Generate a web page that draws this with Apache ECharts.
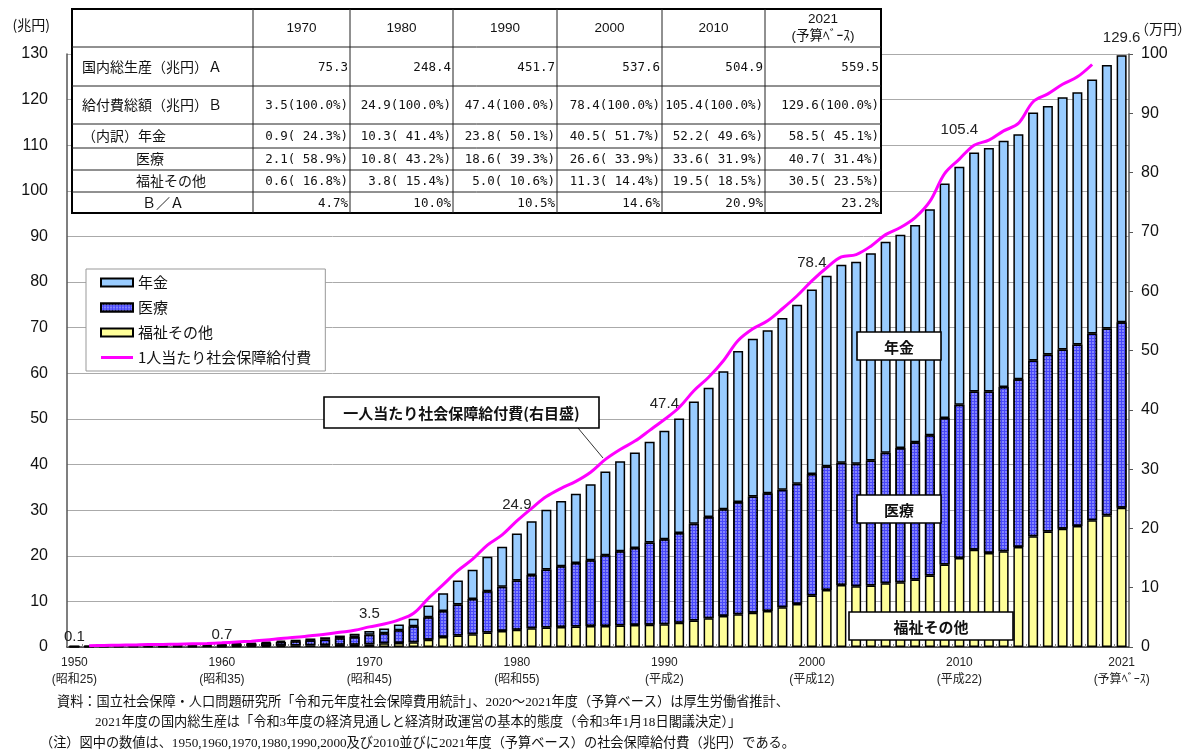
<!DOCTYPE html>
<html><head><meta charset="utf-8">
<script src="https://cdn.jsdelivr.net/npm/echarts@6/dist/echarts.min.js"></script>
<style>html,body{margin:0;padding:0;background:#fff}#c{width:1192px;height:752px}</style>
</head><body><div id="c"></div>
<script>
// ---------------- DATA ----------------
const years = ['1950','1951','1952','1953','1954','1955','1956','1957','1958','1959',
  '1960','1961','1962','1963','1964','1965','1966','1967','1968','1969',
  '1970','1971','1972','1973','1974','1975','1976','1977','1978','1979',
  '1980','1981','1982','1983','1984','1985','1986','1987','1988','1989',
  '1990','1991','1992','1993','1994','1995','1996','1997','1998','1999',
  '2000','2001','2002','2003','2004','2005','2006','2007','2008','2009',
  '2010','2011','2012','2013','2014','2015','2016','2017','2018','2019',
  '2020','2021'];
// 年金 (兆円)
const pension = [0.00,0.01,0.01,0.02,0.02,0.03,0.04,0.05,0.06,0.08,
  0.14,0.17,0.19,0.22,0.27,0.35,0.41,0.48,0.58,0.68,
  0.86,1.04,1.26,1.68,2.60,3.87,5.27,6.41,7.59,8.77,
  10.30,11.78,13.10,14.28,15.22,16.68,18.40,19.72,20.92,22.11,
  23.80,25.10,26.82,28.33,30.27,33.11,34.55,35.72,37.64,39.23,
  40.50,41.80,43.42,44.26,45.42,46.25,46.78,47.63,49.57,51.40,
  52.20,52.40,53.40,54.00,53.70,54.40,54.50,55.30,55.30,55.70,
  57.80,58.50];
// 医療 (兆円)
const medical = [0.06,0.08,0.12,0.15,0.18,0.21,0.22,0.24,0.28,0.31,
  0.35,0.45,0.55,0.68,0.84,0.91,1.08,1.24,1.45,1.68,
  2.07,2.24,2.81,3.47,4.90,5.70,6.80,7.70,9.00,9.70,
  10.80,11.70,12.70,13.30,13.90,14.40,15.50,16.30,16.90,18.00,
  18.60,19.70,21.20,22.20,23.40,24.60,25.50,25.80,25.80,26.40,
  26.60,27.10,26.80,26.90,27.40,28.60,29.40,30.10,30.70,32.10,
  33.60,34.70,35.40,36.00,36.80,38.50,38.80,39.30,39.80,40.90,
  40.90,40.70];
// 福祉その他 (兆円)
const welfare = [0.07,0.07,0.09,0.10,0.11,0.15,0.14,0.14,0.15,0.17,
  0.16,0.17,0.20,0.23,0.27,0.34,0.38,0.42,0.48,0.52,
  0.59,0.80,0.86,1.06,1.60,2.20,2.50,2.80,3.20,3.50,
  3.80,4.10,4.30,4.40,4.50,4.60,4.60,4.70,4.80,4.90,
  5.00,5.30,5.80,6.30,6.80,7.20,7.50,7.90,8.70,9.40,
  11.30,12.50,13.60,13.30,13.50,14.00,14.20,14.80,15.70,18.10,
  19.50,21.30,20.60,21.00,21.90,24.30,25.30,25.90,26.50,27.80,
  28.90,30.50];
// 1人当たり社会保障給付費 (万円, right axis)
const perCapita = [null,0.19,0.26,0.31,0.35,0.43,0.44,0.47,0.53,0.60,
  0.70,0.84,0.99,1.18,1.42,1.63,1.89,2.14,2.48,2.81,
  3.39,3.88,4.58,5.69,8.21,10.52,12.88,14.81,17.19,18.91,
  21.27,23.39,25.36,26.75,27.94,29.48,31.64,33.31,34.72,36.53,
  38.36,40.39,43.21,45.49,48.28,51.69,53.67,55.02,57.04,59.23,
  61.74,63.95,65.77,66.18,67.60,69.54,70.74,72.42,75.15,79.84,
  82.28,84.62,85.46,87.04,88.29,91.95,93.28,94.89,96.15,98.23,
  null,null];

const axisLabelYears = ['1950','1960','1970','1980','1990','2000','2010','2021'];
const axisLabelEras  = ['昭和25','昭和35','昭和45','昭和55','平成2','平成12','平成22','予算ﾍﾞｰｽ'];
const totalLabelYears  = ['1950','1960','1970','1980','1990','2000','2010','2021'];
const totalLabelValues = [0.1,0.7,3.5,24.9,47.4,78.4,105.4,129.6];

// table
const tableHeaders = ['1970','1980','1990','2000','2010','2021\n(予算ﾍﾞｰｽ)'];
const tableRowLabels = ['国内総生産（兆円）Ａ','給付費総額（兆円）Ｂ','（内訳）年金','医療','福祉その他','Ｂ／Ａ'];
const gdp          = [75.3,248.4,451.7,537.6,504.9,559.5];
const benefitTotal = [3.5,24.9,47.4,78.4,105.4,129.6];
const pensionT     = [0.9,10.3,23.8,40.5,52.2,58.5];
const pensionShare = [24.3,41.4,50.1,51.7,49.6,45.1];
const medicalT     = [2.1,10.8,18.6,26.6,33.6,40.7];
const medicalShare = [58.9,43.2,39.3,33.9,31.9,31.4];
const welfareT     = [0.6,3.8,5.0,11.3,19.5,30.5];
const welfareShare = [16.8,15.4,10.6,14.4,18.5,23.5];
const ratioBA      = [4.7,10.0,10.5,14.6,20.9,23.2];

const footnotes = [
  '資料：国立社会保障・人口問題研究所「令和元年度社会保障費用統計」、2020～2021年度（予算ベース）は厚生労働省推計、',
  '2021年度の国内総生産は「令和3年度の経済見通しと経済財政運営の基本的態度（令和3年1月18日閣議決定）」',
  '（注）図中の数値は、1950,1960,1970,1980,1990,2000及び2010並びに2021年度（予算ベース）の社会保障給付費（兆円）である。'
];

// ---------------- STYLE / LAYOUT ----------------
const totalLabelDistance = [1.5,1,9.5,21,19.5,19,29.5,10.5];
const colEdges = [72,253,350,453,557,662,765,881];
const rowEdges = [9,47,86,124,148,170,192,213];
const rowLabelX = [82,82,82,136,136,142];
const CJK = '"Noto Sans CJK JP"';
const MONO = '"DejaVu Sans Mono"';

const fmt1 = v => v.toFixed(1);
const pad5 = s => (' '.repeat(Math.max(0,5-s.length))) + s;
const rowValues = [
  gdp.map(fmt1),
  benefitTotal.map(v => fmt1(v) + '(100.0%)'),
  pensionT.map((v,i)=> fmt1(v) + '(' + pad5(fmt1(pensionShare[i])) + '%)'),
  medicalT.map((v,i)=> fmt1(v) + '(' + pad5(fmt1(medicalShare[i])) + '%)'),
  welfareT.map((v,i)=> fmt1(v) + '(' + pad5(fmt1(welfareShare[i])) + '%)'),
  ratioBA.map(v => fmt1(v) + '%')
];

const graphics = [];
const T = (x,y,text,font,align,valign,extra) => Object.assign({
  type:'text', x:x, y:y, z:100,
  style:{text:text, font:font, fill:'#111', align:align, verticalAlign:valign,
         textAlign:align, textVerticalAlign:valign}
}, extra||{});
// table background + borders
graphics.push({type:'rect', z:99, shape:{x:colEdges[0], y:rowEdges[0], width:colEdges[7]-colEdges[0], height:rowEdges[7]-rowEdges[0]},
  style:{fill:'#fff', stroke:'#000', lineWidth:2}});
for (let r=1;r<rowEdges.length-1;r++){
  graphics.push({type:'line', z:100, shape:{x1:colEdges[0], y1:rowEdges[r], x2:colEdges[7], y2:rowEdges[r]}, style:{stroke:'#222', lineWidth:1}});
}
for (let c=1;c<colEdges.length-1;c++){
  graphics.push({type:'line', z:100, shape:{x1:colEdges[c], y1:rowEdges[0], x2:colEdges[c], y2:rowEdges[7]}, style:{stroke:'#222', lineWidth:1}});
}
tableHeaders.forEach((h,i)=>{
  const cx = (colEdges[i+1]+colEdges[i+2])/2, cy = (rowEdges[0]+rowEdges[1])/2;
  const t = T(cx, cy, h, '13.5px "Liberation Sans", ' + CJK, 'center', 'middle');
  t.style.lineHeight = 17;
  graphics.push(t);
});
tableRowLabels.forEach((lab,r)=>{
  graphics.push(T(rowLabelX[r], (rowEdges[r+1]+rowEdges[r+2])/2, lab, '14px ' + CJK, 'left', 'middle'));
  rowValues[r].forEach((v,i)=>{
    graphics.push(T(colEdges[i+2]-2, (rowEdges[r+1]+rowEdges[r+2])/2 + 1, v, '12.5px ' + MONO + ', ' + CJK, 'right', 'middle'));
  });
});
// annotation boxes
function box(x,y,w,h,text){
  graphics.push({type:'rect', z:100, shape:{x:x,y:y,width:w,height:h}, style:{fill:'#fff', stroke:'#000', lineWidth:1.6}});
  graphics.push(T(x+w/2, y+h/2+1, text, 'bold 15px ' + CJK, 'center', 'middle'));
}
box(857,332,84,28,'年金');
box(857,495,84,28,'医療');
box(849,612,164,28,'福祉その他');
graphics.push({type:'line', z:100, shape:{x1:578,y1:428,x2:603,y2:458}, style:{stroke:'#333', lineWidth:1}});
box(324,397,275,31,'一人当たり社会保障給付費(右目盛)');
// footnotes
const footX = [57,95,40], footY = [703,723,744];
footnotes.forEach((f,i)=>{
  graphics.push(T(footX[i], footY[i], f, '13.2px "Liberation Serif", ' + CJK, 'left', 'middle'));
});

const pensionData = pension.map((v,i)=>{
  const k = totalLabelYears.indexOf(years[i]);
  if (k < 0) return v;
  return {value:v, label:{show:true, distance:totalLabelDistance[k], formatter:fmt1(totalLabelValues[k])}};
});

const barCommon = {type:'bar', stack:'total', barWidth:10, xAxisIndex:0, yAxisIndex:0};

const chart = echarts.init(document.getElementById('c'));
chart.setOption({
  animation:false,
  backgroundColor:'#fff',
  grid:{left:67, right:63, top:54, bottom:105, containLabel:false, outerBoundsMode:'none'},
  legend:{
    orient:'vertical', left:86, top:269,
    data:[
      {name:'年金', icon:'rect'},
      {name:'医療', icon:'rect'},
      {name:'福祉その他', icon:'rect'},
      {name:'1人当たり社会保障給付費', icon:'path://M0,0 L32,0 L32,3 L0,3 Z'}
    ],
    symbolKeepAspect:true,
    itemWidth:32, itemHeight:8, itemGap:8,
    padding:[5,14,5,14],
    borderColor:'#999', borderWidth:1, backgroundColor:'#fff',
    textStyle:{fontSize:15, fontFamily:'Noto Sans CJK JP', color:'#111', lineHeight:17}
  },
  xAxis:{
    type:'category', data:years, boundaryGap:true,
    axisLine:{lineStyle:{color:'#333', width:1.5}},
    axisTick:{show:true, inside:true, length:3, interval:0, lineStyle:{color:'#888'}},
    axisLabel:{
      interval:(idx, val)=> axisLabelYears.indexOf(val) >= 0,
      formatter:(val)=>{ const k = axisLabelYears.indexOf(val); return val + '\n(' + axisLabelEras[k] + ')'; },
      fontSize:12, lineHeight:17, margin:7, color:'#222',
      fontFamily:'"Liberation Sans","Noto Sans CJK JP"'
    },
    splitLine:{show:false}
  },
  yAxis:[
    {type:'value', min:0, max:130, interval:10, position:'left',
     name:'(兆円)', nameLocation:'end', nameGap:22,
     nameTextStyle:{fontSize:14, fontFamily:'Noto Sans CJK JP', color:'#111', align:'right', padding:[0,17,0,0]},
     axisLine:{show:true, lineStyle:{color:'#555', width:1.5}},
     axisTick:{show:false},
     axisLabel:{fontSize:16, margin:19, color:'#111', fontFamily:'Liberation Sans'},
     splitLine:{show:true, lineStyle:{color:'#aaa', width:1}}},
    {type:'value', min:0, max:100, interval:10, position:'right',
     name:'（万円）', nameLocation:'end', nameGap:18,
     nameTextStyle:{fontSize:14, fontFamily:'Noto Sans CJK JP', color:'#111', align:'left', padding:[0,0,0,6]},
     axisLine:{show:true, lineStyle:{color:'#555', width:1.5}},
     axisTick:{show:true, length:4, lineStyle:{color:'#555'}},
     axisLabel:{fontSize:16, margin:12, color:'#111', fontFamily:'Liberation Sans'},
     splitLine:{show:false}}
  ],
  series:[
    Object.assign({}, barCommon, {name:'福祉その他', data:welfare,
      itemStyle:{color:'#ffff99', borderColor:'#000', borderWidth:1.5}}),
    Object.assign({}, barCommon, {name:'医療', data:medical,
      itemStyle:{color:'#4848fa', borderColor:'#000', borderWidth:1.5,
        decal:{symbol:'circle', symbolSize:1, dashArrayX:[2,1], dashArrayY:[2,1], color:'rgba(175,175,255,0.8)'}}}),
    Object.assign({}, barCommon, {name:'年金', data:pensionData,
      itemStyle:{color:'#99ccff', borderColor:'#000', borderWidth:1.5},
      label:{show:false, position:'top', fontSize:15, color:'#222', fontFamily:'Liberation Sans'}}),
    {type:'line', name:'1人当たり社会保障給付費', yAxisIndex:1, data:perCapita,
     smooth:0.35, symbol:'none', connectNulls:false, z:5,
     lineStyle:{color:'#ff00ff', width:3}, itemStyle:{color:'#ff00ff'}}
  ],
  graphic:{elements:graphics}
});
</script>
</body></html>
